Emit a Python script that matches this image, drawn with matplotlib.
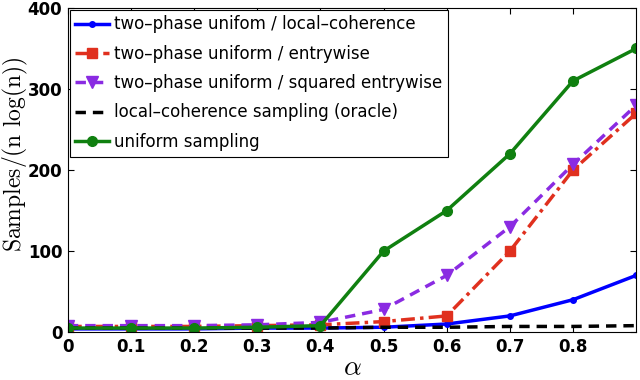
import matplotlib
matplotlib.use("Agg")
import matplotlib.pyplot as plt

alpha = [0.0, 0.1, 0.2, 0.3, 0.4, 0.5, 0.6, 0.7, 0.8, 0.9]

local_coh = [4, 4, 4, 5, 5, 6, 10, 20, 40, 70]
entrywise = [7, 7, 7, 8, 9, 13, 20, 100, 200, 270]
sq_entrywise = [8, 8, 8, 9, 12, 28, 70, 130, 207, 280]
oracle = [5, 5, 5, 5, 5, 6, 6, 7, 7, 8]
uniform = [5, 5, 5, 6, 8, 100, 150, 220, 310, 350]

labels = ["two\u2013phase unifom / local\u2013coherence",
          "two\u2013phase uniform / entrywise",
          "two\u2013phase uniform / squared entrywise",
          "local\u2013coherence sampling (oracle)",
          "uniform sampling"]

plt.rcParams["mathtext.fontset"] = "cm"

fig = plt.figure(figsize=(6.4, 3.8), dpi=100)
ax = fig.add_axes([0.106, 0.126, 0.888, 0.853])

ax.plot(alpha, local_coh, color="#0000ff", lw=2.5, marker="o", ms=4, label=labels[0])
ax.plot(alpha, entrywise, color="#e0301e", lw=2.5, ls=(0, (4, 1.5, 1, 1.5)), marker="s", ms=7, label=labels[1])
ax.plot(alpha, sq_entrywise, color="#8a2be2", lw=2.5, ls=(0, (3, 2)), marker="v", ms=8, label=labels[2])
ax.plot(alpha, oracle, color="black", lw=2.5, ls=(0, (3, 2)), label=labels[3])
ax.plot(alpha, uniform, color="#108010", lw=2.5, marker="o", ms=7, label=labels[4])

ax.set_xlim(0, 0.9)
ax.set_ylim(0, 400)
ax.set_xticks([0, 0.1, 0.2, 0.3, 0.4, 0.5, 0.6, 0.7, 0.8])
ax.set_xticklabels(["0", "0.1", "0.2", "0.3", "0.4", "0.5", "0.6", "0.7", "0.8"])
ax.set_yticks([0, 100, 200, 300, 400])
ax.tick_params(direction="in", top=True, right=True, labelsize=12, length=4, pad=4)
for t in ax.get_xticklabels() + ax.get_yticklabels():
    t.set_fontweight("bold")

ax.set_xlabel(r"$\alpha$", fontsize=20, labelpad=-2)
ax.set_ylabel(r"$\mathrm{Samples/(n\ log(n))}$", fontsize=17, va="center")
ax.yaxis.set_label_coords(-0.093, 0.55)

leg = ax.legend(loc="upper left", fontsize=12, fancybox=False, framealpha=1,
                edgecolor="black", borderaxespad=0.1, handlelength=2.0,
                handletextpad=0.3, labelspacing=0.68, borderpad=0.35)
leg.get_frame().set_linewidth(0.8)

fig.savefig("out.png", dpi=100)
